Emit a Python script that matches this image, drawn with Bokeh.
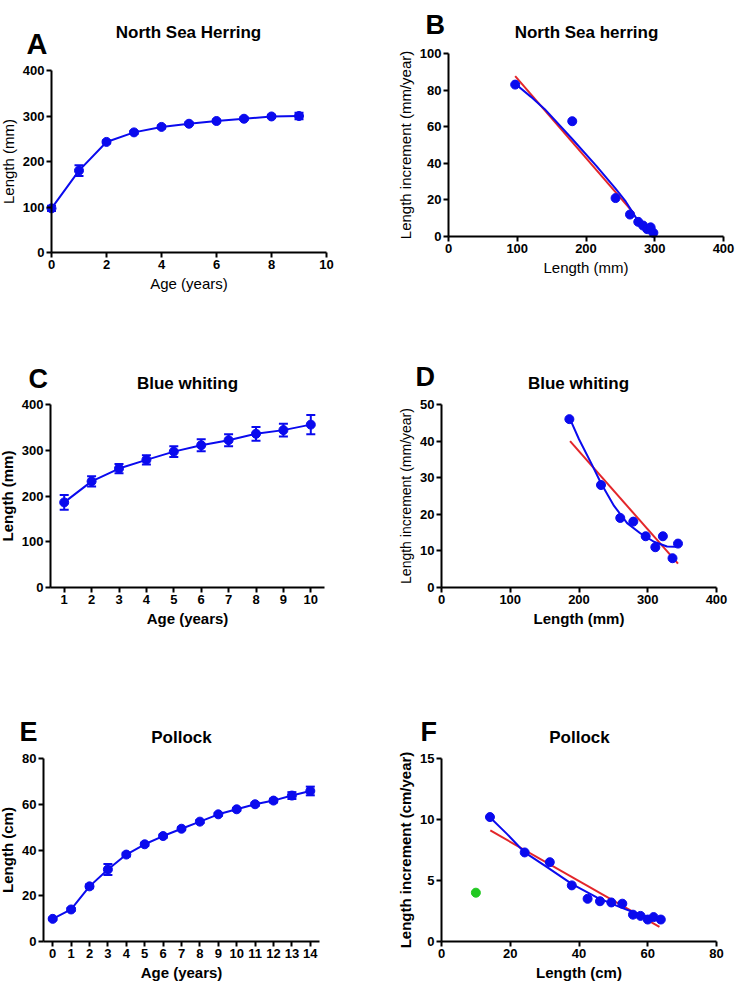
from bokeh.plotting import figure
from bokeh.models import Range1d, Label, Whisker, TeeHead, ColumnDataSource, FixedTicker
from bokeh.layouts import column, row
from bokeh.embed import file_html
from bokeh.resources import INLINE

BLUE = "#0A0AEE"
RED = "#E3262A"
GREEN = "#22C922"
FONT = "Liberation Sans"

# ---------------- data ----------------
herring_age = [0, 1, 2, 3, 4, 5, 6, 7, 8, 9]
herring_len = [97, 180, 243, 264, 276, 283, 289, 294, 299, 300]
herring_err = [6, 12, 3, 3, 3, 3, 3, 3, 3, 7]

herring_inc_x = [97, 180, 243, 264, 276, 283, 289, 294, 298]
herring_inc_y = [83, 63, 21, 12, 8, 6, 4, 5, 2]
herring_lin_x = [97, 270]
herring_lin_y = [87.6, 12.5]
herring_fit_x = [97, 120, 140, 180, 215, 243, 258, 274]
herring_fit_y = [83.5, 76.3, 69.6, 53.3, 38.6, 26.2, 19, 9.5]

bw_age = [1, 2, 3, 4, 5, 6, 7, 8, 9, 10]
bw_len = [186, 232, 260, 279, 297, 311, 322, 336, 344, 356]
bw_err = [16, 11, 10, 10, 12, 13, 13, 15, 14, 21]

bw_inc_x = [186, 232, 260, 279, 297, 311, 322, 336, 344]
bw_inc_y = [46, 28, 19, 18, 14, 11, 14, 8, 12]
bw_lin_x = [187, 344]
bw_lin_y = [40, 6.5]
bw_fit_x = [187, 200, 219, 232, 251, 270, 290, 309, 328, 340, 345]
bw_fit_y = [46, 40.5, 33.5, 28.5, 22.3, 17.6, 14.7, 12.5, 11.2, 11.1, 11.9]

pol_age = [0, 1, 2, 3, 4, 5, 6, 7, 8, 9, 10, 11, 12, 13, 14]
pol_len = [9.9, 14.0, 24.1, 31.5, 38.0, 42.5, 46.1, 49.3, 52.4, 55.6, 57.8, 60.0, 61.6, 63.8, 65.8]
pol_err = [0.5, 0.6, 0.8, 2.4, 0.8, 0.7, 0.7, 0.6, 0.6, 0.6, 0.6, 0.7, 0.8, 1.5, 1.9]

pol_inc_x = [14.1, 24.2, 31.5, 37.9, 42.5, 46.1, 49.4, 52.6, 55.7, 57.9, 60.0, 61.7, 63.8]
pol_inc_y = [10.2, 7.3, 6.5, 4.6, 3.5, 3.3, 3.2, 3.1, 2.2, 2.1, 1.8, 2.0, 1.8]
pol_age0_x = [10.0]
pol_age0_y = [4.0]
pol_lin_x = [14.2, 63.4]
pol_lin_y = [9.1, 1.2]
pol_fit_x = [14.0, 19.1, 24.2, 30.7, 38.0, 45.3, 52.1, 55.9, 59.8, 63.7]
pol_fit_y = [10.2, 8.8, 7.3, 6.1, 4.7, 3.6, 2.8, 2.4, 2.05, 1.75]


class Panel:
    """Figure whose frame fills the whole canvas; axes are drawn at fixed data positions."""

    def __init__(self, left, top, W, H, xdom, xpix, ydom, ypix, xticks, yticks,
                 xlabel, ylabel, xbold, ybold, ysize="15px"):
        self.left, self.top, self.W, self.H = left, top, W, H
        x0, x1 = xdom
        px0, px1 = xpix
        y0, y1 = ydom
        py0, py1 = ypix
        sx = (x1 - x0) / (px1 - px0)
        sy = (y1 - y0) / (py0 - py1)
        xr = Range1d(x0 - (px0 - left) * sx, x1 + (left + W - px1) * sx)
        yr = Range1d(y0 - (top + H - py0) * sy, y1 + (py1 - top) * sy)
        p = figure(width=W, height=H, x_range=xr, y_range=yr,
                   output_backend="svg", toolbar_location=None,
                   min_border_left=0, min_border_right=0,
                   min_border_top=0, min_border_bottom=0)
        p.outline_line_color = None
        p.xgrid.visible = False
        p.ygrid.visible = False
        p.background_fill_color = "white"
        p.border_fill_color = "white"
        p.xaxis.ticker = FixedTicker(ticks=xticks)
        p.yaxis.ticker = FixedTicker(ticks=yticks)
        p.xaxis.fixed_location = y0
        p.yaxis.fixed_location = x0
        p.xaxis.bounds = (x0, x1)
        p.yaxis.bounds = (y0, y1)
        p.xaxis.axis_label = xlabel
        p.yaxis.axis_label = ylabel
        for ax in (p.xaxis, p.yaxis):
            ax.axis_line_width = 2
            ax.axis_line_color = "black"
            ax.major_tick_line_width = 2
            ax.major_tick_line_color = "black"
            ax.major_tick_out = 5
            ax.major_tick_in = 0
            ax.minor_tick_line_color = None
            ax.major_label_text_font = FONT
            ax.major_label_text_font_size = "13px"
            ax.major_label_text_font_style = "bold"
            ax.major_label_text_color = "black"
            ax.major_label_standoff = 2
            ax.axis_label_text_font = FONT
            ax.axis_label_text_color = "black"
            ax.axis_label_standoff = 3
        p.xaxis.axis_label_text_font_size = "15px"
        p.yaxis.axis_label_text_font_size = ysize
        p.xaxis.axis_label_text_font_style = "bold" if xbold else "normal"
        p.yaxis.axis_label_text_font_style = "bold" if ybold else "normal"
        self.p = p

    def text(self, txt, x, y, size, align):
        # x, y: page pixel position (left/center, baseline)
        self.p.add_layout(Label(x=x - self.left, y=self.top + self.H - y,
                                x_units="screen", y_units="screen", text=txt,
                                text_font=FONT, text_font_size=size, text_font_style="bold",
                                text_color="black", text_align=align,
                                text_baseline="alphabetic"))

    def heading(self, letter, lx, ly, title, tx, ty, lsize="27px"):
        self.text(letter, lx, ly, lsize, "left")
        self.text(title, tx, ty, "17px", "center")


def growth(p, ages, lens, errs):
    src = ColumnDataSource(dict(x=ages, y=lens,
                                upper=[v + e for v, e in zip(lens, errs)],
                                lower=[v - e for v, e in zip(lens, errs)]))
    p.line("x", "y", source=src, line_color=BLUE, line_width=2)
    p.add_layout(Whisker(source=src, base="x", upper="upper", lower="lower", dimension="height",
                         line_color=BLUE, line_width=2,
                         upper_head=TeeHead(size=9, line_color=BLUE, line_width=2),
                         lower_head=TeeHead(size=9, line_color=BLUE, line_width=2)))
    p.scatter("x", "y", source=src, size=9, marker="circle", fill_color=BLUE, line_color=BLUE)


def increment(p, xs, ys, lx, ly, fx, fy):
    p.line(lx, ly, line_color=RED, line_width=2)
    p.line(fx, fy, line_color=BLUE, line_width=2)
    p.scatter(xs, ys, size=9, marker="circle", fill_color=BLUE, line_color=BLUE)


# Row 1 (page y 0..320)
A = Panel(0, 0, 368, 320, (0, 10), (51, 326), (0, 400), (252, 70),
          [0, 2, 4, 6, 8, 10], [0, 100, 200, 300, 400],
          "Age (years)", "Length (mm)", False, False)
growth(A.p, herring_age, herring_len, herring_err)
A.heading("A", 26, 43, "North Sea Herring", 188, 32, "29px")

B = Panel(368, 0, 368, 320, (0, 400), (448, 723), (0, 100), (236, 53),
          [0, 100, 200, 300, 400], [0, 20, 40, 60, 80, 100],
          "Length (mm)", "Length increment (mm/year)", False, False)
increment(B.p, herring_inc_x, herring_inc_y, herring_lin_x, herring_lin_y,
          herring_fit_x, herring_fit_y)
B.heading("B", 425, 24, "North Sea herring", 586, 32)

# Row 2 (page y 320..640)
C = Panel(0, 320, 368, 320, (0.5, 10.5), (50, 324), (0, 400), (587, 404),
          list(range(1, 11)), [0, 100, 200, 300, 400],
          "Age (years)", "Length (mm)", True, True)
growth(C.p, bw_age, bw_len, bw_err)
C.heading("C", 28, 378, "Blue whiting", 187, 383)

D = Panel(368, 320, 368, 320, (0, 400), (441, 716), (0, 50), (587, 404),
          [0, 100, 200, 300, 400], [0, 10, 20, 30, 40, 50],
          "Length (mm)", "Length increment (mm/year)", True, False, "14px")
increment(D.p, bw_inc_x, bw_inc_y, bw_lin_x, bw_lin_y, bw_fit_x, bw_fit_y)
D.heading("D", 415, 376, "Blue whiting", 578, 383)

# Row 3 (page y 640..985)
E = Panel(0, 640, 368, 345, (-0.5, 14.5), (43, 319), (0, 80), (941, 758),
          list(range(0, 15)), [0, 20, 40, 60, 80],
          "Age (years)", "Length (cm)", True, True)
growth(E.p, pol_age, pol_len, pol_err)
E.heading("E", 19, 731, "Pollock", 181, 737)

F = Panel(368, 640, 368, 345, (0, 80), (441, 716), (0, 15), (941, 758),
          [0, 20, 40, 60, 80], [0, 5, 10, 15],
          "Length (cm)", "Length increment (cm/year)", True, True)
increment(F.p, pol_inc_x, pol_inc_y, pol_lin_x, pol_lin_y, pol_fit_x, pol_fit_y)
F.p.scatter(pol_age0_x, pol_age0_y, size=9, marker="circle", fill_color=GREEN, line_color=GREEN)
F.heading("F", 420, 731, "Pollock", 579, 737)

layout = column(row(A.p, B.p), row(C.p, D.p), row(E.p, F.p))
open("out.html", "w").write(file_html(layout, INLINE))
